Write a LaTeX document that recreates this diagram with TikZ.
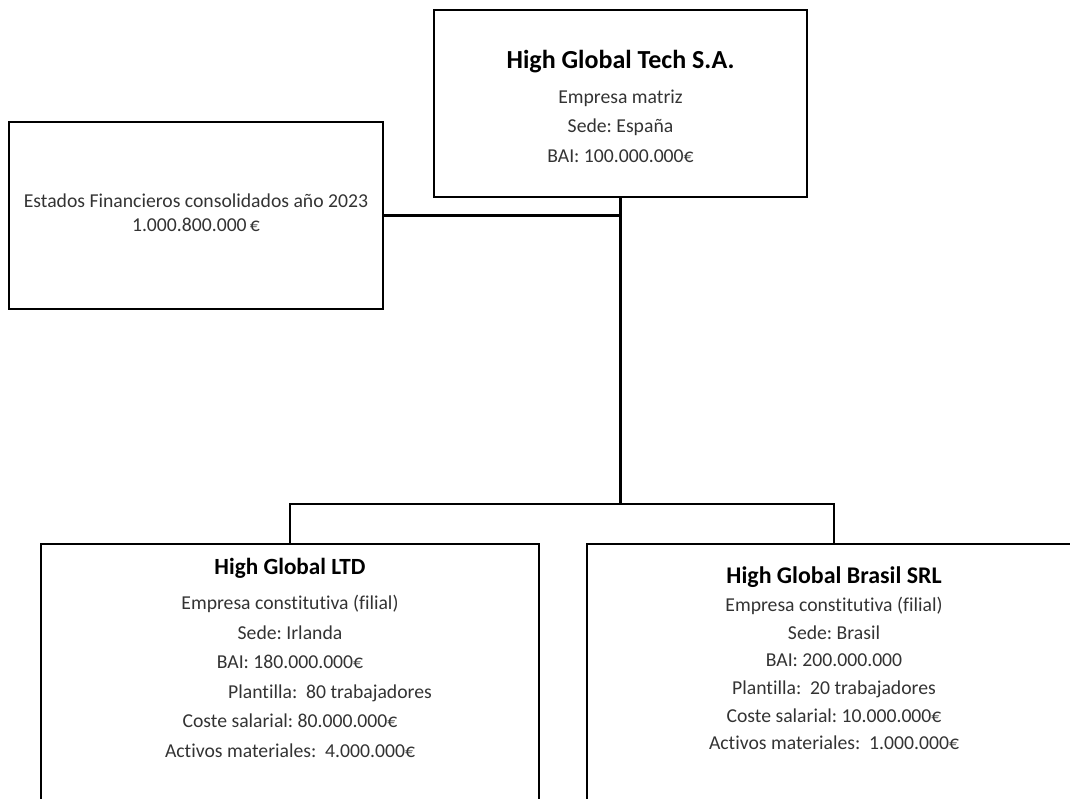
\documentclass[tikz,border=0pt]{standalone}
\usepackage{fontspec}
\setmainfont{Carlito}[Ligatures=NoCommon]
\usetikzlibrary{positioning,calc}
\frenchspacing

\begin{document}
\begin{tikzpicture}[x={(.025cm,0cm)},y={(0cm,-.025cm)},
caja/.style={draw,line width=1.3pt,inner sep=0pt},
linea/.style={line width=1.6pt},
titulo/.style={font=\bfseries\fontsize{18.5}{22}\selectfont},
subtitulo/.style={font=\bfseries\fontsize{16.5}{20}\selectfont},
texto/.style={align=center,text=black!80,font=\fontsize{14}{21}\selectfont}]
\useasboundingbox(0,0)rectangle(1070,799);
\clip(0,0)rectangle(1070,799);
\node[caja,minimum width=9.325cm,minimum height=4.675cm](matriz)at(620.5,103.5){};
\node[caja,minimum width=9.35cm,minimum height=4.675cm](estados)at(196,215.5){};
\node[caja,minimum width=12.45cm,minimum height=7.9cm](ltd)at(290,702){};
\node[caja,minimum width=12.35cm,minimum height=7.9cm](brasil)at(834,702){};
\node[titulo](matriztit)at(620.5,62){High Global Tech S.A.};
\node[texto](matriztxt)at(620.5,126){Empresa matriz\\Sede: España\\BAI: 100.000.000€};
\node[texto,font=\fontsize{14}{17}\selectfont](estadostxt)at(196,213){Estados Financieros consolidados año 2023\\1.000.800.000\,€};
\node[subtitulo](ltdtit)at(290,568){High Global LTD};
\node[texto](ltdtxt)at(290,676.5){Empresa constitutiva (filial)\\Sede: Irlanda\\BAI: 180.000.000€\\\hspace*{2cm}Plantilla:~ 80 trabajadores\\Coste salarial: 80.000.000€\\Activos materiales:~ 4.000.000€};
\node[subtitulo,font=\bfseries\fontsize{17}{20}\selectfont](brasiltit)at(834,577){High Global Brasil SRL};
\node[texto,font=\fontsize{14}{19.7}\selectfont](brasiltxt)at(834,673.5){Empresa constitutiva (filial)\\Sede: Brasil\\BAI: 200.000.000\\Plantilla:~ 20 trabajadores\\Coste salarial: 10.000.000€\\Activos materiales:~ 1.000.000€};
\coordinate(reparto)at(matriz.south|-0,504);
\draw[linea](matriz.south)--(reparto);
\draw[linea](estados.east)--(estados.east-|matriz.south);
\draw[linea](ltd.north)|-(reparto)-|(brasil.north);
\end{tikzpicture}
\end{document}
